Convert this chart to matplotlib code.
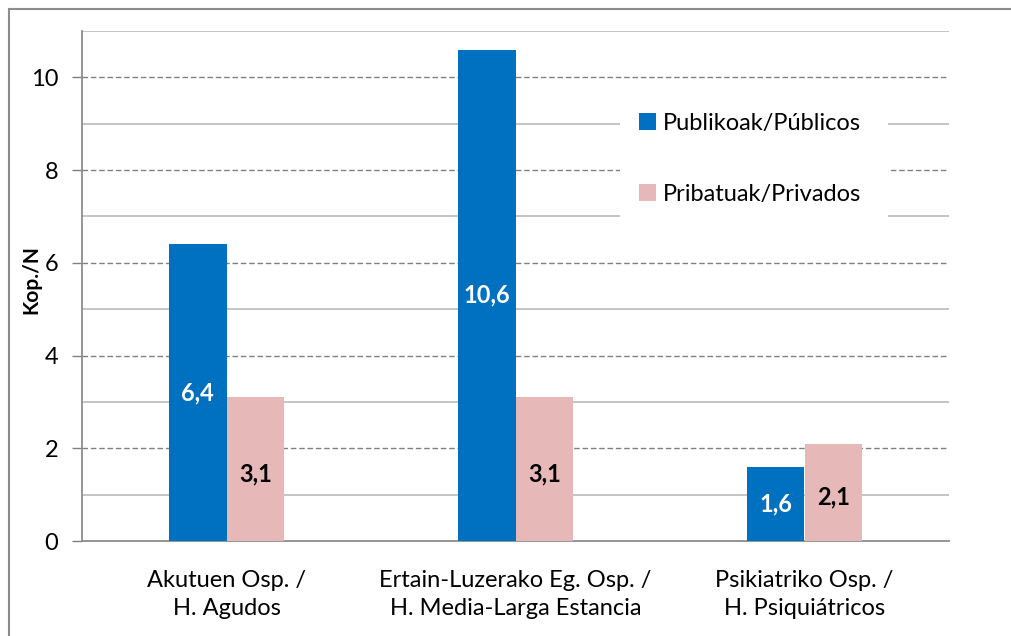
import numpy as np
import matplotlib.pyplot as plt
from matplotlib.lines import Line2D
from matplotlib.patches import Rectangle

plt.rcParams['font.family'] = ['Lato', 'DejaVu Sans']

categories = ["Akutuen Osp. /\nH. Agudos",
              "Ertain-Luzerako Eg. Osp. /\nH. Media-Larga Estancia",
              "Psikiatriko Osp. /\nH. Psiquiátricos"]
publikoak = [6.4, 10.6, 1.6]
pribatuak = [3.1, 3.1, 2.1]
series_names = ["Publikoak/Públicos", "Pribatuak/Privados"]

blue = "#0070C0"
pink = "#E6B9B8"
fs = 17

fig = plt.figure(figsize=(10.11, 6.36), dpi=100)
ax = fig.add_axes([82/1011, 1 - 541/636, (949 - 82)/1011, (541 - 31)/636])

# outer frame (top and left visible)
fig.add_artist(Line2D([9/1011, 1], [1 - 9/636, 1 - 9/636], color="#8C8C8C", lw=1.5))
fig.add_artist(Line2D([9/1011, 9/1011], [0, 1 - 9/636], color="#8C8C8C", lw=1.5))

x = np.arange(len(categories))
w = 0.2
b1 = ax.bar(x - w/2, publikoak, w, color=blue, label=series_names[0], zorder=3)
b2 = ax.bar(x + w/2, pribatuak, w, color=pink, label=series_names[1], zorder=3)

for rect, v in zip(b1, publikoak):
    ax.text(rect.get_x() + rect.get_width()/2, v/2, f"{v:.1f}".replace(".", ","),
            ha="center", va="center", color="white", fontsize=fs, fontweight="bold", zorder=4)
for rect, v in zip(b2, pribatuak):
    ax.text(rect.get_x() + rect.get_width()/2, v/2 - 0.1, f"{v:.1f}".replace(".", ","),
            ha="center", va="center", color="black", fontsize=fs, fontweight="bold", zorder=4)

ax.set_xlim(-0.5, 2.5)
ax.set_ylim(0, 11)

# gridlines: dashed on even, solid on odd
for yv in range(2, 11, 2):
    ax.axhline(yv, color="#808080", lw=1, ls=(0, (4, 2)), zorder=1)
for yv in range(1, 12, 2):
    ax.axhline(yv, color="#BFBFBF", lw=1.3, zorder=1)

ax.set_yticks(range(0, 11, 2))
ax.set_yticklabels([str(v) for v in range(0, 11, 2)])
ax.set_xticks(x)
ax.set_xticklabels(categories, linespacing=1.4)
ax.tick_params(axis="y", length=7, width=1, color="#808080", labelsize=fs, pad=10)
ax.tick_params(axis="x", length=0, labelsize=fs, pad=21)

for s in ["top", "right"]:
    ax.spines[s].set_visible(False)
ax.spines["left"].set_color("#8C8C8C")
ax.spines["left"].set_linewidth(1.3)
ax.spines["bottom"].set_color("#8C8C8C")
ax.spines["bottom"].set_linewidth(1.3)

fig.text(31/1011, 1 - 280/636, "Kop./N", rotation=90, ha="center", va="center",
         fontsize=15, fontweight="bold")

# white box behind the legend
ax.add_patch(Rectangle((620/1011, 1 - 226/636), 268/1011, 126/636,
                       transform=fig.transFigure, facecolor="white",
                       edgecolor="none", zorder=2))

leg = ax.legend(loc="upper left", bbox_to_anchor=(639/1011, 1 - 113/636),
                bbox_transform=fig.transFigure, fontsize=fs, frameon=False,
                handlelength=0.7, handleheight=0.7, handletextpad=0.3,
                labelspacing=2.1, borderpad=0, borderaxespad=0)
leg.set_zorder(5)

fig.savefig("out.png", dpi=100)
